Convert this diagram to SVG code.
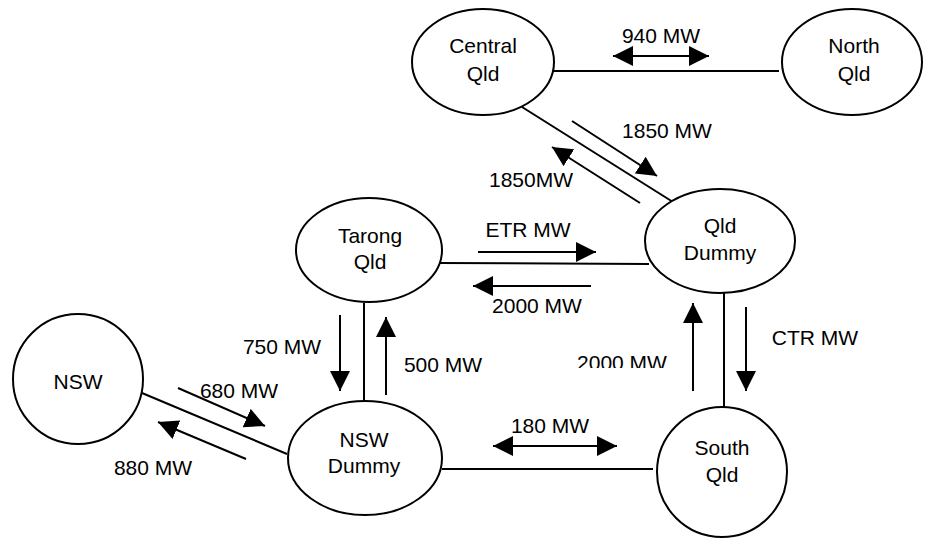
<svg xmlns="http://www.w3.org/2000/svg" width="933" height="538" viewBox="0 0 933 538">
<style>
.node{fill:#fff;stroke:#000;stroke-width:2}
.ln{stroke:#000;stroke-width:2;fill:none}
.ar{stroke:#000;stroke-width:2;fill:none;marker-end:url(#ah)}
.dar{stroke:#000;stroke-width:2;fill:none;marker-end:url(#ah);marker-start:url(#ahs)}
text{font-family:"Liberation Sans",Arial,sans-serif;font-size:21px;fill:#000;text-anchor:middle}
</style>
<defs>
<marker id="ah" markerUnits="userSpaceOnUse" markerWidth="20" markerHeight="20" refX="20" refY="10" orient="auto"><path d="M0,0 L20,10 L0,20 z" fill="#000"/></marker>
<marker id="ahs" markerUnits="userSpaceOnUse" markerWidth="20" markerHeight="20" refX="20" refY="10" orient="auto-start-reverse"><path d="M0,0 L20,10 L0,20 z" fill="#000"/></marker>
<clipPath id="clip2000"><rect x="560" y="340" width="130" height="28"/></clipPath>
</defs>
<g id="connectors">
<line class="ln" x1="547" y1="71" x2="779" y2="71"/>
<line class="ln" x1="522" y1="107" x2="673" y2="202"/>
<line class="ln" x1="438" y1="263" x2="649" y2="264"/>
<line class="ln" x1="724" y1="293" x2="724" y2="407"/>
<line class="ln" x1="364" y1="303" x2="364" y2="400"/>
<line class="ln" x1="142" y1="393" x2="287" y2="454"/>
<line class="ln" x1="442" y1="469" x2="653" y2="469"/>
<line class="dar" x1="613" y1="56" x2="709" y2="56"/>
<line class="ar" x1="572" y1="121" x2="657" y2="176"/>
<line class="ar" x1="640" y1="203" x2="552" y2="147"/>
<line class="ar" x1="478" y1="252" x2="596" y2="252"/>
<line class="ar" x1="591" y1="286" x2="473" y2="286"/>
<line class="ar" x1="340" y1="315" x2="340" y2="391"/>
<line class="ar" x1="386" y1="395" x2="386" y2="317"/>
<line class="ar" x1="693" y1="391" x2="693" y2="303"/>
<line class="ar" x1="746" y1="307" x2="746" y2="391"/>
<line class="ar" x1="178" y1="388" x2="265" y2="426"/>
<line class="ar" x1="246" y1="459" x2="158" y2="422"/>
<line class="dar" x1="493" y1="446" x2="617" y2="446"/>
<text x="661" y="43">940 MW</text>
<text x="667" y="138">1850 MW</text>
<text x="531" y="187">1850MW</text>
<text x="528" y="237">ETR MW</text>
<text x="537" y="313">2000 MW</text>
<text x="815" y="345">CTR MW</text>
<text x="622" y="370" clip-path="url(#clip2000)">2000 MW</text>
<text x="443" y="372">500 MW</text>
<text x="282" y="354">750 MW</text>
<text x="239" y="398">680 MW</text>
<text x="153" y="475">880 MW</text>
<text x="550" y="433">180 MW</text>
</g>
<g id="central-qld"><ellipse class="node" cx="483" cy="62" rx="71" ry="53"/><text x="483" y="53">Central</text><text x="483" y="81">Qld</text></g>
<g id="north-qld"><ellipse class="node" cx="852" cy="62" rx="70" ry="53"/><text x="854" y="53">North</text><text x="854" y="81">Qld</text></g>
<g id="qld-dummy"><ellipse class="node" cx="720" cy="241" rx="75" ry="52"/><text x="720" y="233">Qld</text><text x="720" y="260">Dummy</text></g>
<g id="tarong-qld"><ellipse class="node" cx="369" cy="250" rx="73" ry="52"/><text x="370" y="243">Tarong</text><text x="370" y="269">Qld</text></g>
<g id="nsw"><circle class="node" cx="78" cy="379" r="65"/><text x="78" y="389">NSW</text></g>
<g id="nsw-dummy"><ellipse class="node" cx="365" cy="458" rx="77" ry="57"/><text x="364" y="447">NSW</text><text x="364" y="473">Dummy</text></g>
<g id="south-qld"><circle class="node" cx="722" cy="472" r="65"/><text x="722" y="455">South</text><text x="722" y="482">Qld</text></g>
</svg>
